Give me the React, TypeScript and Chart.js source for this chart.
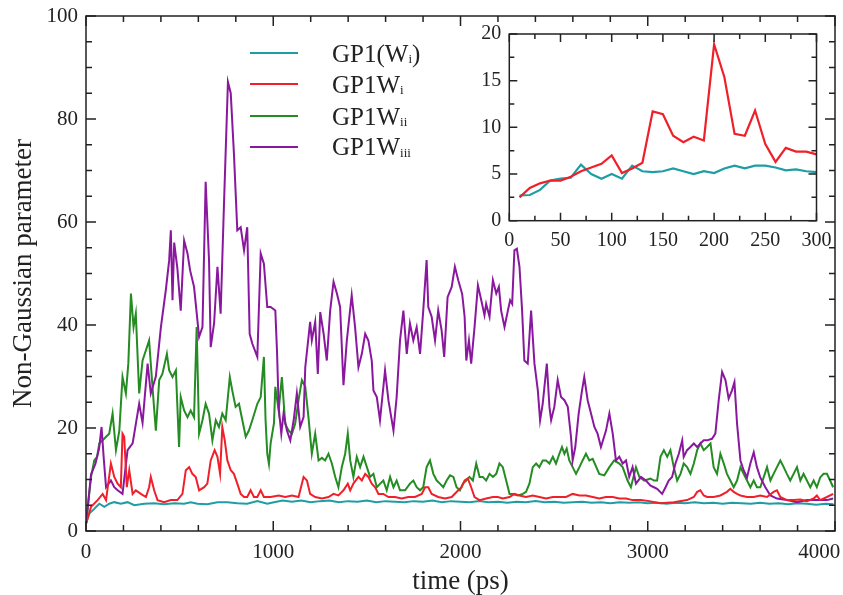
import React, { useEffect, useRef } from 'react';
import { Chart, registerables } from 'chart.js';

Chart.register(...registerables);

const FONT = "'Liberation Serif', 'Times New Roman', serif";
const INK = '#222';

const TEAL = '#1e9ea4';
const RED = '#f0202a';
const GREEN = '#248c22';
const PURPLE = '#8a189e';

// ---------- main chart data (time in ps, value) ----------
const TEAL_T = [0, 18, 44, 71, 98, 124, 151, 186, 222, 258, 311, 364, 417, 471, 524, 559, 595, 648, 702, 755, 808, 861, 915, 968, 1004, 1050, 1100, 1150, 1200, 1250, 1300, 1350, 1400, 1450, 1500, 1550, 1600, 1650, 1700, 1750, 1800, 1850, 1900, 1950, 2000, 2050, 2100, 2150, 2200, 2250, 2300, 2350, 2400, 2450, 2500, 2550, 2600, 2650, 2700, 2750, 2800, 2850, 2900, 2950, 3000, 3050, 3100, 3150, 3200, 3250, 3300, 3350, 3400, 3450, 3500, 3550, 3600, 3650, 3700, 3750, 3800, 3850, 3900, 3950, 3992];
const TEAL_V = [1.4, 3.4, 4.3, 5.3, 4.7, 5.3, 5.6, 5.3, 5.6, 5.0, 5.3, 5.4, 5.2, 5.4, 5.3, 5.6, 5.3, 5.2, 5.6, 5.6, 5.4, 5.3, 5.8, 5.3, 5.6, 5.9, 5.7, 5.9, 5.6, 5.8, 5.9, 5.6, 5.8, 5.7, 5.9, 5.6, 5.8, 5.7, 5.6, 5.8, 5.7, 5.9, 5.6, 5.8, 5.7, 5.6, 5.8, 5.6, 5.7, 5.5, 5.7, 5.6, 5.8, 5.6, 5.7, 5.5, 5.6, 5.7, 5.5, 5.6, 5.4, 5.6, 5.5, 5.6, 5.4, 5.5, 5.3, 5.5, 5.4, 5.6, 5.4, 5.5, 5.3, 5.5, 5.4, 5.3, 5.5, 5.3, 5.4, 5.2, 5.4, 5.3, 5.1, 5.3, 5.2];

const RED_T = [0, 27, 62, 89, 107, 133, 151, 169, 186, 195, 204, 218, 231, 249, 266, 293, 320, 337, 346, 364, 382, 417, 453, 488, 515, 533, 551, 568, 586, 604, 631, 648, 666, 687, 702, 716, 728, 741, 755, 773, 790, 808, 826, 844, 861, 879, 897, 915, 933, 950, 986, 1029, 1064, 1100, 1135, 1162, 1180, 1197, 1224, 1260, 1295, 1322, 1348, 1375, 1398, 1411, 1428, 1455, 1473, 1491, 1508, 1526, 1544, 1562, 1588, 1615, 1650, 1686, 1721, 1757, 1793, 1811, 1828, 1846, 1881, 1917, 1953, 1988, 2006, 2022, 2039, 2057, 2075, 2102, 2137, 2173, 2199, 2226, 2262, 2288, 2315, 2350, 2386, 2421, 2457, 2493, 2528, 2564, 2599, 2635, 2670, 2706, 2741, 2777, 2813, 2848, 2884, 2919, 2964, 3008, 3068, 3139, 3210, 3246, 3264, 3281, 3299, 3317, 3352, 3388, 3423, 3441, 3459, 3477, 3495, 3530, 3566, 3601, 3637, 3672, 3690, 3708, 3743, 3779, 3815, 3850, 3886, 3903, 3921, 3957, 3990];
const RED_V = [1.4, 4.7, 6.0, 7.2, 6.0, 13.1, 10.5, 9.2, 8.5, 18.9, 18.3, 8.5, 11.8, 7.2, 7.9, 7.2, 6.6, 8.5, 10.5, 7.9, 6.0, 5.6, 6.0, 6.0, 7.2, 11.8, 12.4, 11.1, 10.5, 7.9, 8.5, 9.2, 13.7, 15.7, 14.4, 11.1, 20.2, 17.6, 13.7, 11.8, 11.1, 9.2, 7.2, 6.6, 6.6, 7.9, 6.6, 6.6, 7.9, 6.6, 6.6, 6.9, 6.6, 6.9, 6.6, 10.5, 9.8, 7.2, 6.6, 6.3, 6.6, 7.2, 6.9, 7.9, 9.2, 7.9, 9.2, 10.5, 9.8, 11.1, 10.5, 9.2, 8.5, 7.2, 7.2, 6.6, 6.6, 6.3, 6.6, 6.6, 7.2, 8.5, 8.5, 7.2, 6.6, 6.3, 6.6, 7.9, 8.5, 9.8, 10.2, 8.5, 6.6, 6.0, 6.3, 6.6, 6.6, 6.3, 6.6, 7.2, 6.9, 6.6, 6.9, 6.6, 6.3, 6.6, 6.6, 6.6, 7.2, 6.9, 6.9, 6.6, 6.3, 6.6, 6.6, 6.3, 6.3, 6.0, 6.0, 5.8, 5.4, 5.6, 6.0, 6.6, 7.6, 7.9, 6.9, 6.6, 6.6, 6.9, 7.6, 8.2, 7.6, 7.2, 6.9, 6.6, 6.6, 6.9, 6.6, 7.6, 7.9, 6.6, 6.0, 6.0, 6.1, 5.8, 6.3, 6.9, 6.0, 6.6, 7.2];

const GREEN_T = [0, 27, 44, 59, 71, 89, 107, 124, 142, 160, 178, 195, 213, 226, 240, 254, 266, 284, 302, 320, 337, 355, 373, 391, 408, 432, 444, 462, 480, 497, 506, 524, 542, 559, 577, 591, 604, 622, 639, 657, 675, 693, 710, 728, 746, 768, 781, 799, 817, 835, 853, 870, 888, 915, 933, 950, 959, 968, 977, 986, 1004, 1011, 1029, 1046, 1064, 1082, 1100, 1117, 1135, 1153, 1171, 1188, 1206, 1224, 1242, 1260, 1277, 1295, 1313, 1331, 1348, 1366, 1384, 1398, 1411, 1428, 1446, 1464, 1482, 1500, 1517, 1535, 1553, 1571, 1588, 1606, 1624, 1642, 1659, 1677, 1704, 1730, 1748, 1766, 1784, 1801, 1819, 1837, 1855, 1873, 1890, 1908, 1926, 1944, 1962, 1979, 1997, 2013, 2031, 2048, 2066, 2084, 2102, 2119, 2137, 2155, 2173, 2191, 2208, 2226, 2244, 2262, 2279, 2306, 2333, 2350, 2368, 2386, 2404, 2421, 2439, 2457, 2475, 2493, 2510, 2528, 2542, 2555, 2567, 2581, 2599, 2617, 2635, 2652, 2670, 2688, 2706, 2741, 2768, 2795, 2821, 2848, 2866, 2892, 2910, 2937, 2955, 2981, 3015, 3033, 3050, 3068, 3086, 3104, 3121, 3139, 3157, 3175, 3192, 3210, 3228, 3246, 3264, 3281, 3299, 3317, 3335, 3352, 3370, 3388, 3406, 3423, 3441, 3459, 3477, 3495, 3512, 3530, 3548, 3566, 3583, 3601, 3619, 3637, 3655, 3672, 3690, 3708, 3726, 3743, 3761, 3779, 3797, 3815, 3832, 3850, 3868, 3886, 3903, 3921, 3939, 3957, 3974, 3990];
const GREEN_V = [1.4, 10.5, 13.7, 14.4, 17.0, 17.6, 18.3, 18.9, 22.8, 15.7, 19.5, 29.9, 26.7, 32.5, 46.1, 39.6, 42.2, 26.7, 33.1, 35.1, 37.0, 28.0, 19.5, 29.3, 30.5, 34.4, 31.2, 29.9, 31.2, 16.3, 26.0, 23.4, 22.1, 23.4, 22.1, 39.6, 18.9, 21.5, 24.7, 22.8, 17.6, 21.5, 20.2, 22.8, 21.5, 29.9, 27.3, 24.1, 24.7, 21.5, 18.3, 19.5, 21.5, 24.7, 26.0, 33.8, 21.5, 15.0, 13.0, 17.0, 21.0, 28.0, 23.4, 29.9, 20.8, 19.5, 18.9, 20.8, 25.4, 29.3, 28.0, 22.1, 15.0, 18.9, 13.7, 14.2, 13.7, 15.0, 13.1, 10.5, 8.5, 12.4, 15.0, 18.9, 13.7, 10.5, 14.4, 12.4, 14.4, 12.4, 10.5, 11.1, 8.5, 9.2, 9.8, 7.9, 10.5, 8.5, 9.8, 7.9, 7.9, 9.2, 9.8, 8.5, 7.9, 8.5, 12.4, 13.7, 11.1, 9.8, 9.2, 8.5, 9.8, 10.8, 10.5, 8.5, 7.9, 9.2, 9.8, 10.5, 9.8, 13.1, 10.5, 10.5, 9.8, 11.1, 10.5, 11.1, 13.1, 12.4, 9.8, 7.2, 7.2, 6.9, 7.2, 7.6, 9.2, 12.4, 13.1, 12.4, 13.7, 13.7, 13.1, 14.4, 13.1, 15.0, 16.3, 15.0, 16.0, 13.7, 12.4, 11.1, 12.4, 13.7, 15.0, 13.7, 14.0, 11.1, 10.8, 12.4, 13.7, 13.1, 12.4, 9.8, 8.5, 12.4, 10.5, 9.8, 10.2, 9.8, 9.8, 14.4, 15.7, 14.4, 15.7, 12.4, 9.8, 11.1, 13.1, 12.4, 11.1, 13.1, 15.7, 17.0, 15.7, 16.3, 17.0, 12.4, 11.1, 15.0, 13.1, 11.1, 9.8, 8.5, 9.8, 12.4, 11.1, 9.8, 8.5, 9.8, 8.5, 8.5, 10.4, 12.4, 9.8, 11.1, 12.4, 13.7, 12.4, 11.1, 9.8, 11.1, 12.4, 9.8, 11.1, 9.8, 8.5, 9.8, 8.5, 10.4, 11.1, 11.1, 9.8, 8.5];

const PURPLE_T = [0, 27, 50, 70, 83, 95, 107, 133, 151, 169, 195, 222, 249, 284, 302, 329, 346, 373, 400, 426, 444, 453, 462, 471, 488, 506, 524, 542, 556, 577, 604, 622, 639, 657, 666, 684, 702, 719, 737, 758, 773, 790, 808, 826, 844, 861, 874, 888, 915, 933, 950, 968, 986, 1011, 1020, 1029, 1043, 1055, 1073, 1091, 1109, 1126, 1144, 1162, 1171, 1197, 1206, 1224, 1238, 1251, 1269, 1286, 1304, 1322, 1340, 1357, 1375, 1393, 1419, 1437, 1455, 1473, 1491, 1508, 1526, 1535, 1553, 1570, 1597, 1615, 1642, 1659, 1677, 1695, 1713, 1730, 1748, 1766, 1784, 1801, 1819, 1828, 1846, 1864, 1881, 1899, 1913, 1931, 1953, 1970, 1988, 2009, 2022, 2031, 2045, 2057, 2075, 2093, 2111, 2128, 2137, 2155, 2173, 2191, 2205, 2217, 2235, 2253, 2265, 2276, 2288, 2301, 2315, 2329, 2341, 2359, 2377, 2395, 2413, 2425, 2439, 2461, 2475, 2484, 2501, 2519, 2537, 2555, 2573, 2590, 2599, 2613, 2631, 2649, 2661, 2679, 2697, 2715, 2732, 2750, 2777, 2795, 2813, 2830, 2848, 2866, 2884, 2901, 2919, 2937, 2964, 2990, 3015, 3033, 3050, 3077, 3095, 3112, 3130, 3148, 3166, 3184, 3192, 3210, 3228, 3246, 3264, 3281, 3299, 3317, 3343, 3361, 3379, 3397, 3415, 3432, 3450, 3463, 3477, 3495, 3512, 3530, 3548, 3566, 3583, 3601, 3628, 3655, 3690, 3743, 3797, 3850, 3886, 3957, 3990];
const PURPLE_V = [1.4, 11.0, 13.0, 16.0, 20.2, 14.0, 8.5, 9.8, 8.5, 7.9, 7.2, 15.7, 17.0, 24.7, 21.0, 32.5, 26.7, 30.0, 39.6, 46.7, 52.5, 58.4, 44.8, 56.0, 51.0, 42.8, 56.4, 53.9, 50.6, 47.4, 37.7, 39.6, 67.8, 52.6, 35.7, 40.3, 51.3, 42.2, 63.6, 87.2, 85.0, 73.3, 58.4, 59.0, 54.5, 59.0, 38.3, 36.4, 33.8, 53.9, 51.9, 43.5, 43.5, 42.8, 35.0, 24.0, 18.9, 22.8, 19.5, 17.6, 21.5, 26.7, 20.2, 22.1, 31.8, 40.6, 37.0, 40.6, 30.5, 42.5, 38.3, 33.1, 42.8, 48.4, 46.1, 43.5, 28.3, 37.0, 45.8, 39.6, 31.8, 34.4, 38.3, 37.0, 33.1, 27.3, 26.0, 21.5, 31.2, 25.4, 19.5, 26.0, 37.0, 42.8, 34.4, 40.3, 37.0, 39.6, 34.4, 42.8, 52.6, 43.5, 41.6, 37.0, 42.8, 39.0, 33.8, 45.4, 47.4, 51.3, 48.7, 46.0, 41.6, 33.1, 37.0, 32.5, 39.6, 47.7, 44.8, 41.9, 44.1, 41.6, 48.7, 46.1, 47.4, 42.8, 39.6, 42.8, 44.8, 44.1, 54.5, 54.8, 51.3, 42.8, 33.1, 32.5, 42.8, 32.5, 27.3, 21.5, 24.7, 32.5, 24.1, 21.5, 24.1, 29.3, 26.0, 25.4, 24.1, 18.3, 13.7, 16.3, 22.8, 27.3, 29.9, 25.4, 22.8, 20.2, 18.9, 16.3, 19.5, 22.8, 18.9, 13.7, 14.4, 13.1, 13.7, 10.5, 12.4, 9.2, 10.5, 9.8, 8.8, 8.5, 8.2, 7.2, 8.5, 9.8, 10.5, 13.1, 15.0, 17.6, 14.4, 15.7, 16.3, 17.0, 16.3, 17.0, 17.6, 17.6, 17.9, 18.9, 25.4, 30.9, 29.3, 25.7, 27.3, 28.9, 20.8, 13.7, 11.8, 10.4, 13.1, 15.3, 12.4, 10.4, 8.5, 6.9, 6.3, 6.0, 5.6, 6.0, 6.0, 6.0, 6.3];

// ---------- inset data (first 300 ps) ----------
const INSET_T = [10, 20, 30, 40, 50, 60, 70, 80, 90, 100, 110, 120, 130, 140, 150, 160, 170, 180, 190, 200, 210, 220, 230, 240, 250, 260, 270, 280, 290, 300];
const INSET_RED = [2.5, 3.5, 4.0, 4.3, 4.3, 4.7, 5.3, 5.7, 6.1, 7.0, 5.1, 5.6, 6.2, 11.7, 11.4, 9.1, 8.4, 9.0, 8.6, 18.9, 15.4, 9.3, 9.1, 11.8, 8.2, 6.3, 7.8, 7.4, 7.4, 7.1];
const INSET_TEAL = [2.7, 2.75, 3.3, 4.3, 4.5, 4.6, 6.0, 5.0, 4.5, 5.0, 4.5, 5.9, 5.3, 5.2, 5.3, 5.6, 5.3, 5.0, 5.3, 5.1, 5.6, 5.9, 5.6, 5.9, 5.9, 5.7, 5.4, 5.5, 5.3, 5.2];

// ---------- legend ----------
const LEGEND_BASE = ['GP1(W', 'GP1W', 'GP1W', 'GP1W'];
const LEGEND_SUB = ['i', 'i', 'ii', 'iii'];
const LEGEND_TAIL = [')', '', '', ''];
const LEGEND_COLORS = [TEAL, RED, GREEN, PURPLE];
const LEGEND_ROW_Y = [53.3, 84.3, 116, 146.7];

const pts = (t: number[], v: number[]) => t.map((x, i) => ({ x, y: v[i] }));

function frameTicks(o: { xMinor: number; xMajor: number; yMinor: number; yMajor: number; majorLen: number; minorLen: number }) {
  return {
    id: 'frameTicks',
    afterDraw(chart: any) {
      const { ctx, chartArea: a, scales } = chart;
      const x = scales.x;
      const y = scales.y;
      const isMajor = (v: number, m: number) => Math.abs(v / m - Math.round(v / m)) < 1e-6;
      ctx.save();
      ctx.strokeStyle = INK;
      ctx.lineWidth = 1.5;
      ctx.beginPath();
      for (let v = x.min; v <= x.max + 1e-9; v += o.xMinor) {
        const px = x.getPixelForValue(v);
        const len = isMajor(v, o.xMajor) ? o.majorLen : o.minorLen;
        ctx.moveTo(px, a.bottom);
        ctx.lineTo(px, a.bottom - len);
        ctx.moveTo(px, a.top);
        ctx.lineTo(px, a.top + len);
      }
      for (let v = y.min; v <= y.max + 1e-9; v += o.yMinor) {
        const py = y.getPixelForValue(v);
        const len = isMajor(v, o.yMajor) ? o.majorLen : o.minorLen;
        ctx.moveTo(a.left, py);
        ctx.lineTo(a.left + len, py);
        ctx.moveTo(a.right, py);
        ctx.lineTo(a.right - len, py);
      }
      ctx.stroke();
      ctx.strokeRect(a.left, a.top, a.right - a.left, a.bottom - a.top);
      ctx.restore();
    },
  };
}

const lineDs = (label: string, data: any[], color: string, width: number) => ({
  label,
  data,
  borderColor: color,
  backgroundColor: color,
  borderWidth: width,
  pointRadius: 0,
  tension: 0,
  fill: false,
});

export default function App() {
  const mainRef = useRef<HTMLCanvasElement>(null);
  const insetRef = useRef<HTMLCanvasElement>(null);

  useEffect(() => {
    const main = new Chart(mainRef.current as HTMLCanvasElement, {
      type: 'line',
      data: {
        datasets: [
          lineDs('GP1Wi', pts(RED_T, RED_V), RED, 2),
          lineDs('GP1Wiii', pts(PURPLE_T, PURPLE_V), PURPLE, 2),
          lineDs('GP1Wii', pts(GREEN_T, GREEN_V), GREEN, 2),
          lineDs('GP1(Wi)', pts(TEAL_T, TEAL_V), TEAL, 2),
        ],
      },
      options: {
        animation: false,
        responsive: false,
        devicePixelRatio: 1,
        layout: { padding: { left: 0, top: 16, right: 8, bottom: 0 } },
        plugins: { legend: { display: false }, tooltip: { enabled: false } },
        scales: {
          x: {
            type: 'linear',
            min: 0,
            max: 4000,
            grid: { display: false, drawTicks: false },
            border: { display: false },
            ticks: {
              stepSize: 1000,
              padding: 9,
              maxRotation: 0,
              autoSkip: false,
              color: INK,
              font: { family: FONT, size: 21 },
              callback: (v: any) => (Number(v) === 4000 ? '4000      ' : String(v)),
            },
            title: {
              display: true,
              text: 'time (ps)',
              color: INK,
              font: { family: FONT, size: 27, lineHeight: 1 },
              padding: { top: 0, bottom: 0 },
            },
            afterFit: (s: any) => {
              s.height = 64;
              s.paddingLeft = 0;
              s.paddingRight = 0;
            },
          },
          y: {
            type: 'linear',
            min: 0,
            max: 100,
            grid: { display: false, drawTicks: false },
            border: { display: false },
            ticks: {
              stepSize: 20,
              padding: 8,
              color: INK,
              font: { family: FONT, size: 21 },
            },
            title: {
              display: true,
              text: 'Non-Gaussian parameter',
              color: INK,
              font: { family: FONT, size: 27, lineHeight: 1 },
              padding: { top: 10, bottom: 0 },
            },
            afterFit: (s: any) => {
              s.width = 86;
              s.paddingTop = 0;
              s.paddingBottom = 0;
            },
          },
        },
      },
      plugins: [frameTicks({ xMinor: 200, xMajor: 1000, yMinor: 5, yMajor: 20, majorLen: 10, minorLen: 6 })],
    } as any);

    const inset = new Chart(insetRef.current as HTMLCanvasElement, {
      type: 'line',
      data: {
        datasets: [
          lineDs('GP1Wi', pts(INSET_T, INSET_RED), RED, 2.2),
          lineDs('GP1(Wi)', pts(INSET_T, INSET_TEAL), TEAL, 2.2),
        ],
      },
      options: {
        animation: false,
        responsive: false,
        devicePixelRatio: 1,
        layout: { padding: { left: 0, top: 20, right: 26.5, bottom: 0 } },
        plugins: { legend: { display: false }, tooltip: { enabled: false } },
        scales: {
          x: {
            type: 'linear',
            min: 0,
            max: 300,
            grid: { display: false, drawTicks: false },
            border: { display: false },
            ticks: {
              stepSize: 50,
              padding: 8,
              maxRotation: 0,
              autoSkip: false,
              color: INK,
              font: { family: FONT, size: 20 },
            },
            afterFit: (s: any) => {
              s.height = 39.3;
              s.paddingLeft = 0;
              s.paddingRight = 0;
            },
          },
          y: {
            type: 'linear',
            min: 0,
            max: 20,
            grid: { display: false, drawTicks: false },
            border: { display: false },
            ticks: {
              stepSize: 5,
              padding: 8,
              color: INK,
              font: { family: FONT, size: 20 },
            },
            afterFit: (s: any) => {
              s.width = 43.3;
              s.paddingTop = 0;
              s.paddingBottom = 0;
            },
          },
        },
      },
      plugins: [frameTicks({ xMinor: 25, xMajor: 50, yMinor: 2.5, yMajor: 5, majorLen: 8, minorLen: 5 })],
    } as any);

    return () => {
      main.destroy();
      inset.destroy();
    };
  }, []);

  return (
    <div style={{ position: 'fixed', left: 0, top: 0, width: 843, height: 595, background: '#fff', overflow: 'hidden' }}>
      <canvas ref={mainRef} width={843} height={595} style={{ position: 'absolute', left: 0, top: 0, width: 843, height: 595 }} />
      <canvas ref={insetRef} width={377} height={246} style={{ position: 'absolute', left: 466, top: 14, width: 377, height: 246 }} />
      {LEGEND_BASE.map((base, i) => (
        <React.Fragment key={i}>
          <div
            style={{
              position: 'absolute',
              left: 250,
              top: LEGEND_ROW_Y[i] - 1,
              width: 48,
              height: 2,
              background: LEGEND_COLORS[i],
            }}
          />
          <div
            style={{
              position: 'absolute',
              left: 332,
              top: LEGEND_ROW_Y[i] - 12.5,
              fontFamily: FONT,
              fontSize: 25,
              lineHeight: '25px',
              color: INK,
              whiteSpace: 'nowrap',
            }}
          >
            {base}
            <span style={{ fontSize: 13, position: 'relative', top: 1.5 }}>{LEGEND_SUB[i]}</span>
            {LEGEND_TAIL[i]}
          </div>
        </React.Fragment>
      ))}
    </div>
  );
}
